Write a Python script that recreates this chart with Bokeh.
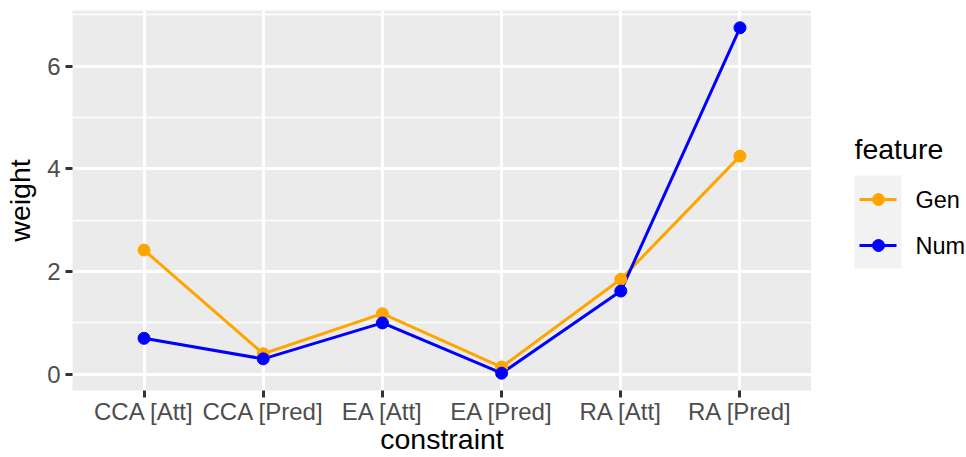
import numpy as np
from bokeh.plotting import figure
from bokeh.models import Range1d, FixedTicker
from bokeh.layouts import row
from bokeh.embed import file_html
from bokeh.resources import INLINE
from bokeh.core.properties import value

# ---- data ----
constraints = ["CCA [Att]", "CCA [Pred]", "EA [Att]", "EA [Pred]", "RA [Att]", "RA [Pred]"]
gen_weight = [2.42, 0.40, 1.18, 0.14, 1.85, 4.25]
num_weight = [0.70, 0.30, 1.00, 0.02, 1.62, 6.75]
features = ["Gen", "Num"]
feature_colors = ["#FFA500", "#0000FF"]
y_ticks = [0, 2, 4, 6]
y_minor = [1, 3, 5, 7]
x_title = "constraint"
y_title = "weight"
legend_title = "feature"

FONT = "Liberation Sans"
series = [gen_weight, num_weight]
xs = list(range(1, len(constraints) + 1))
allv = gen_weight + num_weight
span = max(allv) - min(allv)
ylo, yhi = min(allv) - 0.05 * span, max(allv) + 0.05 * span

p = figure(width=811, height=457, output_backend="svg", toolbar_location=None,
           x_range=Range1d(0.4, len(xs) + 0.6), y_range=Range1d(ylo, yhi),
           min_border_left=72, min_border_right=0, min_border_top=10, min_border_bottom=67)
p.background_fill_color = "#EBEBEB"
p.border_fill_color = "white"
p.outline_line_color = None

p.xaxis.ticker = FixedTicker(ticks=xs)
p.xaxis.major_label_overrides = {x: c for x, c in zip(xs, constraints)}
p.yaxis.ticker = FixedTicker(ticks=y_ticks, minor_ticks=y_minor)
for ax in (p.xaxis[0], p.yaxis[0]):
    ax.axis_line_color = None
    ax.major_tick_line_color = "#333333"
    ax.major_tick_line_width = 3
    ax.major_tick_out = 7
    ax.major_tick_in = 0
    ax.minor_tick_line_color = None
    ax.major_label_text_font = FONT
    ax.major_label_text_font_size = "24px"
    ax.major_label_text_color = "#4D4D4D"
    ax.axis_label_text_font = FONT
    ax.axis_label_text_font_size = "28.5px"
    ax.axis_label_text_font_style = "normal"
    ax.axis_label_text_color = "black"
p.xaxis.major_label_standoff = 0
p.yaxis.major_label_standoff = 5
p.yaxis.axis_label = y_title
p.yaxis.axis_label_standoff = 8
p.xaxis.axis_label = x_title
p.xaxis.axis_label_standoff = -5

p.xgrid.grid_line_color = "white"
p.xgrid.grid_line_width = 3
p.ygrid.grid_line_color = "white"
p.ygrid.grid_line_width = 3
p.ygrid.minor_grid_line_color = "white"
p.ygrid.minor_grid_line_width = 1.5

for vals, col in zip(series, feature_colors):
    p.line(xs, vals, line_color=col, line_width=3)
for vals, col in zip(series, feature_colors):
    p.scatter(xs, vals, size=12, fill_color=col, line_color=col)

# ---- legend panel (its frame is aligned with the main panel: y 10..390) ----
L = figure(width=155, height=457, output_backend="svg", toolbar_location=None,
           x_range=Range1d(811, 966), y_range=Range1d(390, 10),
           x_axis_type=None, y_axis_type=None,
           min_border_left=0, min_border_right=0, min_border_top=0, min_border_bottom=0)
L.outline_line_color = None
L.background_fill_color = "white"
L.border_fill_color = "white"
L.xgrid.visible = False
L.ygrid.visible = False

L.quad(left=[854], right=[901], top=[175], bottom=[268], fill_color="#F2F2F2", line_color=None)
L.text(x=[854], y=[148], text=[legend_title], text_font=value(FONT), text_font_size="28.5px",
       text_color="black", text_baseline="middle")
for i, (f, col) in enumerate(zip(features, feature_colors)):
    yc = 199 + 46 * i
    L.segment(x0=[859], y0=[yc], x1=[896], y1=[yc], line_color=col, line_width=3)
    L.scatter(x=[878], y=[yc], size=12, fill_color=col, line_color=col)
    L.text(x=[915], y=[yc], text=[f], text_font=value(FONT), text_font_size="23.5px",
           text_color="black", text_baseline="middle")

layout = row(p, L, spacing=0)
open("out.html", "w").write(file_html(layout, INLINE))
